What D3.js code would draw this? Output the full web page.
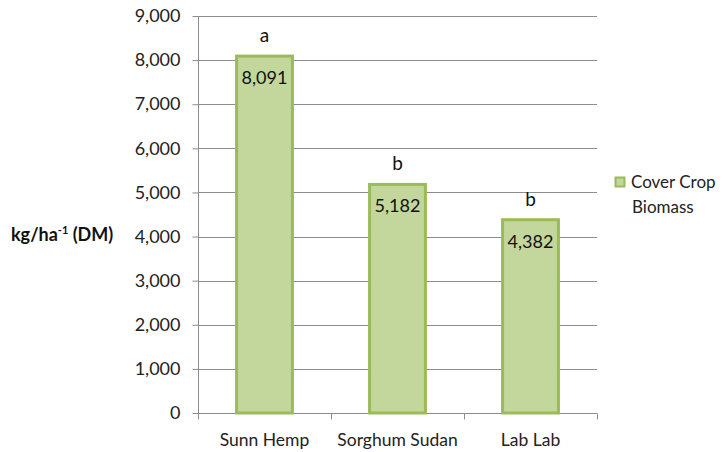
<!DOCTYPE html>
<html><head><meta charset="utf-8">
<script src="https://cdn.jsdelivr.net/npm/d3@7"></script>
<style>body{margin:0;background:#fff;font-family:Lato,"Open Sans",sans-serif;}</style>
</head><body>
<svg id="c" width="724" height="452"></svg>
<script>
const categories = ["Sunn Hemp","Sorghum Sudan","Lab Lab"];
const biomass = [8091,5182,4382];
const letters = ["a","b","b"];
const yTicks = [0,1000,2000,3000,4000,5000,6000,7000,8000,9000];
const seriesName = ["Cover Crop","Biomass"];

(function(){
const svg = d3.select("#c");
const pL=198, pR=597, pT=16, pB=413;
const x = d3.scaleBand().domain(categories).range([pL,pR]).paddingInner(0.58).paddingOuter(0.29);
const y = d3.scaleLinear().domain([0,9000]).range([pB,pT]);
const fmt = d3.format(",");

// gridlines
svg.append("g").selectAll("line").data(yTicks.filter(d=>d>0)).join("line")
  .attr("x1",pL).attr("x2",pR).attr("y1",d=>Math.round(y(d))+0.5).attr("y2",d=>Math.round(y(d))+0.5)
  .attr("stroke","#8c8c8c").attr("stroke-width",1);

// y axis
const ya = svg.append("g").attr("transform",`translate(${pL+0.5},0)`)
  .call(d3.axisLeft(y).tickValues(yTicks).tickFormat(fmt).tickSize(6).tickPadding(12));
ya.select(".domain").attr("stroke","#8c8c8c").attr("d",`M0,${pT}V${pB+0.5}`);
ya.selectAll(".tick line").attr("stroke","#8c8c8c");
ya.selectAll("text").attr("font-size",18).attr("fill","#222").attr("font-family","Lato, 'Open Sans', sans-serif");

// x axis
const xa = svg.append("g").attr("transform",`translate(0,${pB+0.5})`);
xa.append("line").attr("x1",pL).attr("x2",pR).attr("stroke","#8c8c8c");
const edges = [pL].concat(categories.map((c,i)=>pL+(pR-pL)/categories.length*(i+1)));
xa.selectAll("line.t").data(edges).join("line").attr("class","t")
  .attr("x1",d=>Math.round(d)+0.5).attr("x2",d=>Math.round(d)+0.5).attr("y1",0).attr("y2",6).attr("stroke","#8c8c8c");
xa.selectAll("text").data(categories).join("text")
  .attr("x",d=>x(d)+x.bandwidth()/2).attr("y",32).attr("text-anchor","middle")
  .attr("font-size",17.5).attr("fill","#222").text(d=>d);

// bars
svg.append("g").selectAll("rect").data(categories).join("rect")
  .attr("x",d=>x(d)).attr("width",x.bandwidth())
  .attr("y",(d,i)=>y(biomass[i])).attr("height",(d,i)=>pB-y(biomass[i]))
  .attr("fill","#c3d69b").attr("stroke","#9bbb59").attr("stroke-width",3);

// value labels
svg.append("g").selectAll("text").data(categories).join("text")
  .attr("x",d=>x(d)+x.bandwidth()/2).attr("y",(d,i)=>y(biomass[i])+28)
  .attr("text-anchor","middle").attr("font-size",18).attr("fill","#111")
  .text((d,i)=>fmt(biomass[i]));

// letters
svg.append("g").selectAll("text").data(categories).join("text")
  .attr("x",d=>x(d)+x.bandwidth()/2).attr("y",(d,i)=>y(biomass[i])-14)
  .attr("text-anchor","middle").attr("font-size",19).attr("fill","#111")
  .text((d,i)=>letters[i]);

// y title
const yt = svg.append("text").attr("x",11).attr("y",241).attr("font-size",18)
  .attr("font-weight","bold").attr("fill","#111");
yt.append("tspan").text("kg/ha");
yt.append("tspan").attr("dy",-7).attr("font-size",11).text("-1");
yt.append("tspan").attr("dy",7).text(" (DM)");

// legend
const lg = svg.append("g");
lg.append("rect").attr("x",615.5).attr("y",177.5).attr("width",9).attr("height",9)
  .attr("fill","#c3d69b").attr("stroke","#9bbb59").attr("stroke-width",2);
lg.selectAll("text").data(seriesName).join("text")
  .attr("x",(d,i)=>i===0?631:632).attr("y",(d,i)=>188+i*25).attr("font-size",17).attr("fill","#222").text(d=>d);
})();
</script>
</body></html>
